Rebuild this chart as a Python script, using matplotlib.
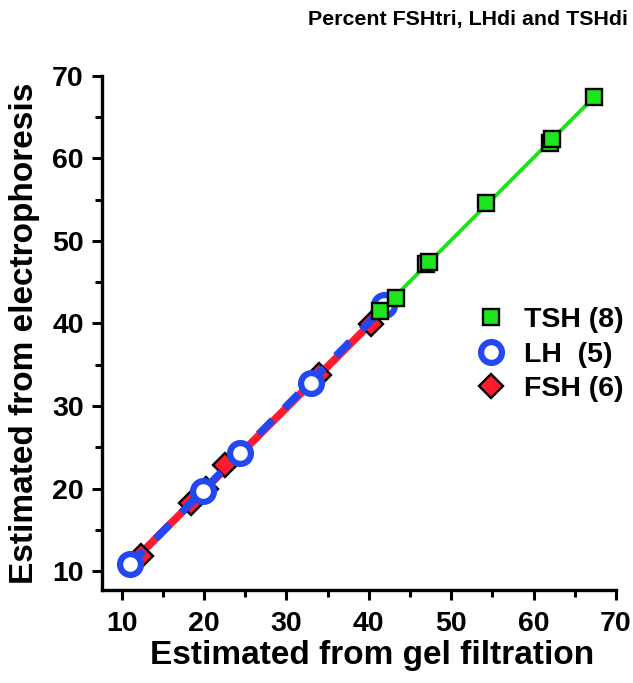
import matplotlib
matplotlib.use("Agg")
import matplotlib.pyplot as plt
from matplotlib.ticker import MultipleLocator
import numpy as np

plt.rcParams['font.family'] = ['Liberation Sans', 'DejaVu Sans']
plt.rcParams['font.weight'] = 'bold'

# Data
tsh_x = [41.3, 43.3, 47.0, 47.3, 54.2, 62.0, 62.3, 67.3]
tsh_y = [41.5, 43.1, 47.2, 47.4, 54.6, 61.9, 62.3, 67.4]

lh_x = [11.0, 19.9, 24.4, 33.0, 41.9]
lh_y = [10.9, 19.7, 24.3, 32.8, 42.2]

fsh_x = [12.3, 18.4, 20.2, 22.6, 34.0, 40.3]
fsh_y = [11.8, 18.3, 20.0, 22.8, 33.8, 39.9]

labels = ["TSH (8)", "LH  (5)", "FSH (6)"]
x_ticks = [10, 20, 30, 40, 50, 60, 70]
y_ticks = [10, 20, 30, 40, 50, 60, 70]

fig = plt.figure(figsize=(6.33, 6.83), dpi=100)
ax = fig.add_axes([0.161, 0.136, 0.812, 0.753])

def fit_line(x, y):
    x = np.asarray(x); y = np.asarray(y)
    m, b = np.polyfit(x, y, 1)
    xs = np.array([x.min(), x.max()])
    return xs, m * xs + b

sq = dict(ls='none', marker='s', ms=12, mfc='#1ee61e', mec='black', mew=1.7)
ci = dict(ls='none', marker='o', ms=15, mfc='white', mec='#2347f0', mew=4.5)
di = dict(ls='none', marker='D', ms=12, mfc='#ff1a2e', mec='black', mew=1.7)

# FSH line & markers
fx, fy = fit_line(fsh_x, fsh_y)
ax.plot(fx, fy, color='#ff1a2e', lw=5.5, zorder=2, solid_capstyle='butt')
ax.plot(fsh_x, fsh_y, zorder=3, **di)

# LH line & markers
lx, ly = fit_line(lh_x, lh_y)
ax.plot(lx, ly, color='#2347f0', lw=5.5, ls=(0, (2.6, 2.2)), zorder=4)
ax.plot(lh_x, lh_y, zorder=5, **ci)

# TSH line & markers
tx, ty = fit_line(tsh_x, tsh_y)
ax.plot(tx, ty, color='#22e01a', lw=2.8, zorder=6)
ax.plot(tsh_x, tsh_y, zorder=7, **sq)

# legend handles
h1, = ax.plot([], [], **sq)
h2, = ax.plot([], [], **ci)
h3, = ax.plot([], [], **di)
leg = ax.legend([h1, h2, h3], labels, loc='center left', bbox_to_anchor=(0.685, 0.458),
                frameon=False, handletextpad=0.35, labelspacing=0.3, borderpad=0,
                handlelength=1.6, prop={'weight': 'bold', 'size': 20.5})

ax.set_xlim(7.6, 70)
ax.set_ylim(7.7, 70)
ax.set_xticks(x_ticks)
ax.set_yticks(y_ticks)
ax.xaxis.set_minor_locator(MultipleLocator(5))
ax.yaxis.set_minor_locator(MultipleLocator(5))
ax.tick_params(which='major', direction='out', length=7, width=2.2, labelsize=20.5, pad=6)
ax.tick_params(axis='x', which='major', pad=8)
ax.tick_params(which='minor', direction='out', length=5, width=2.2)
for lab in ax.get_xticklabels() + ax.get_yticklabels():
    lab.set_fontweight('bold')
for s in ['top', 'right']:
    ax.spines[s].set_visible(False)
for s in ['left', 'bottom']:
    ax.spines[s].set_linewidth(2.4)

ax.set_xlabel("Estimated from gel filtration", fontsize=24, fontweight='bold')
ax.set_ylabel("Estimated from electrophoresis", fontsize=24, fontweight='bold', labelpad=9)
ax.xaxis.set_label_coords(0.525, -0.097)
fig.text(0.992, 0.971, "Percent FSHtri, LHdi and TSHdi", ha='right', va='center',
         fontsize=15.4, fontweight='bold')

fig.savefig("out.png", dpi=100)
